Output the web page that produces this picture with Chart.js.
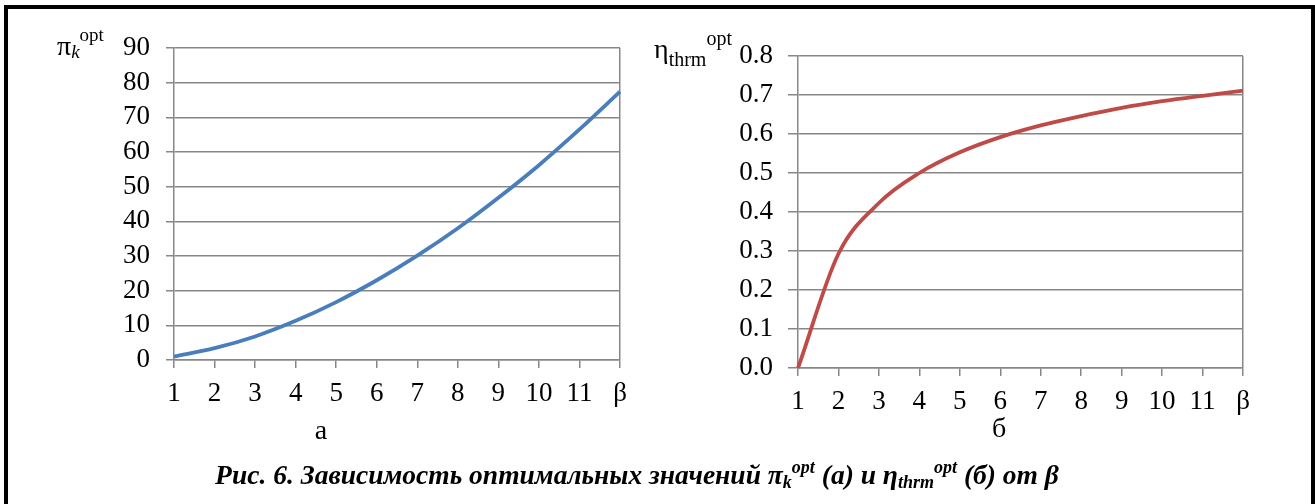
<!DOCTYPE html>
<html><head><meta charset="utf-8">
<script src="https://cdn.jsdelivr.net/npm/chart.js@4.4.1/dist/chart.umd.min.js"></script>
<style>
html,body{margin:0;padding:0;background:#fff;}
#page{position:relative;width:1315px;height:504px;overflow:hidden;background:#fff;font-family:'Liberation Serif','Times New Roman',serif;color:#000;}
#frame{position:absolute;left:4px;top:5px;width:1311px;height:530px;border-left:4px solid #000;border-top:4px solid #000;border-right:4px solid #000;box-sizing:border-box;}
.cv{position:absolute;top:0;height:504px;}
.t{position:absolute;white-space:nowrap;line-height:1;}
.sub,.sup{position:relative;}
</style></head>
<body><div id="page">
<div id="frame"></div>
<div class="cv" style="left:0;width:657px"><canvas id="c1" width="657" height="504"></canvas></div>
<div class="cv" style="left:657px;width:658px"><canvas id="c2" width="658" height="504"></canvas></div>
<div class="t" style="left:57px;top:32px;font-size:28px">π<span class="sub" style="font-style:italic;font-size:19px;top:3px">k</span><span class="sup" style="font-size:19px;top:-14px">opt</span></div>
<div class="t" style="left:654px;top:35px;font-size:28px">η<span class="sub" style="font-size:20px;top:8px">thrm</span><span class="sup" style="font-size:20px;top:-13px">opt</span></div>
<div class="t" style="left:321px;top:416px;font-size:28px;transform:translateX(-50%)">а</div>
<div class="t" style="left:999px;top:414px;font-size:28px;transform:translateX(-50%)">б</div>
<div class="t" style="left:637px;top:461px;font-size:27.5px;font-weight:bold;font-style:italic;transform:translateX(-50%)">Рис. 6. Зависимость оптимальных значений π<span class="sub" style="font-size:18px;top:4px">k</span><span class="sup" style="font-size:18px;top:-11px">opt</span> (а) и η<span class="sub" style="font-size:18px;top:4px">thrm</span><span class="sup" style="font-size:18px;top:-11px">opt</span> (б) от β</div>
</div>
<script>
const betaLabels = ['1','2','3','4','5','6','7','8','9','10','11','β'];
const piOptValues = [1.0, 3.4, 6.8, 11.3, 16.7, 23.0, 30.1, 38.0, 46.8, 56.2, 66.5, 77.4];
const etaOptValues = [0.000, 0.293, 0.423, 0.500, 0.553, 0.592, 0.622, 0.646, 0.667, 0.684, 0.698, 0.711];
const piTickValues = [0, 10, 20, 30, 40, 50, 60, 70, 80, 90];
const etaTickValues = [0.0, 0.1, 0.2, 0.3, 0.4, 0.5, 0.6, 0.7, 0.8];

const GRAY = '#878787';
const FONT = {family: "'Liberation Serif', 'Times New Roman', serif", size: 27};

function makeChart(id, values, color, yTicks, fmt, yWidth, pad, yTickLen, yPad) {
  const last = betaLabels.length - 1;
  return new Chart(document.getElementById(id), {
    type: 'line',
    data: {
      labels: betaLabels,
      datasets: [{
        data: values,
        borderColor: color,
        borderWidth: 3.8,
        pointRadius: 0,
        fill: false,
        cubicInterpolationMode: 'monotone',
        clip: 6
      }]
    },
    options: {
      responsive: false,
      animation: false,
      devicePixelRatio: 1,
      layout: {padding: pad},
      plugins: {legend: {display: false}, tooltip: {enabled: false}},
      scales: {
        x: {
          type: 'category',
          offset: false,
          grid: {
            color: ctx => (ctx.index === last ? GRAY : 'rgba(0,0,0,0)'),
            tickColor: GRAY,
            lineWidth: 1.5,
            tickLength: 8,
            drawTicks: true
          },
          border: {display: true, color: GRAY, width: 1.5},
          ticks: {color: '#000', font: FONT, padding: 10, maxRotation: 0, autoSkip: false},
          afterFit: s => { s.height = 60; }
        },
        y: {
          min: yTicks[0],
          max: yTicks[yTicks.length - 1],
          afterBuildTicks: s => { s.ticks = yTicks.map(v => ({value: v})); },
          grid: {color: GRAY, lineWidth: 1.5, tickLength: yTickLen, drawTicks: true},
          border: {display: true, color: GRAY, width: 1.5},
          ticks: {color: '#000', font: FONT, padding: yPad, callback: fmt, autoSkip: false},
          afterFit: s => { s.width = yWidth; }
        }
      }
    }
  });
}

makeChart('c1', piOptValues, '#4a7ebb', piTickValues, v => String(v), 174,
  {left: 0, top: 48, right: 37, bottom: 84}, 8, 16);
makeChart('c2', etaOptValues, '#be4b48', etaTickValues, v => Number(v).toFixed(1), 141,
  {left: 0, top: 56, right: 72, bottom: 76}, 10, 15);
</script>
</body></html>
